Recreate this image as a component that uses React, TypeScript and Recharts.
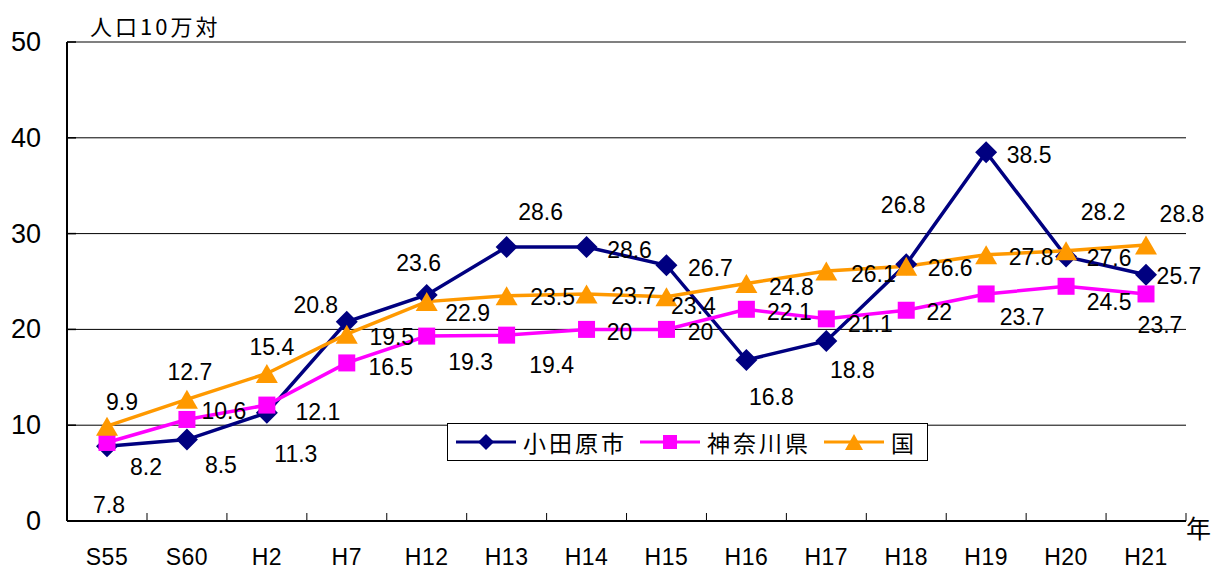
import React from 'react';
import { LineChart, Line, XAxis, YAxis, CartesianGrid, ReferenceLine, LabelList } from 'recharts';

const categories = ['S55', 'S60', 'H2', 'H7', 'H12', 'H13', 'H14', 'H15', 'H16', 'H17', 'H18', 'H19', 'H20', 'H21'];
const odawara = [7.8, 8.5, 11.3, 20.8, 23.6, 28.6, 28.6, 26.7, 16.8, 18.8, 26.8, 38.5, 27.6, 25.7];
const kanagawa = [8.2, 10.6, 12.1, 16.5, 19.3, 19.4, 20, 20, 22.1, 21.1, 22, 23.7, 24.5, 23.7];
const national = [9.9, 12.7, 15.4, 19.5, 22.9, 23.5, 23.7, 23.4, 24.8, 26.1, 26.6, 27.8, 28.2, 28.8];
const seriesNames = ['小田原市', '神奈川県', '国'];
const yTicks = [0, 10, 20, 30, 40, 50];

// label placement offsets (layout only), relative to each point
const odawaraLabelOffsets = [[2, 59], [34, 25], [29, 41], [-31, -17], [-8, -32], [34, -35], [43, 3], [44, 3], [25, 37], [26, 29], [-3, -59], [43, 3], [43, 1], [33, 1]];
const kanagawaLabelOffsets = [[39, 25], [37, -8], [51, 7], [44, 4], [44, 26], [45, 30], [33, 3], [34, 3], [43, 3], [44, 5], [33, 2], [36, 23], [43, 16], [14, 31]];
const nationalLabelOffsets = [[15, -24], [3, -27], [5, -26], [45, 3], [41, 11], [46, 1], [47, 2], [27, 9], [45, 4], [47, 3], [44, 2], [45, 2], [37, -39], [36, -31]];

const data = categories.map((c, i) => ({ name: c, odawara: odawara[i], kanagawa: kanagawa[i], national: national[i] }));

const FONT = "'Liberation Sans', Arial, 'Noto Sans CJK JP', sans-serif";
const CJK = "'Noto Sans CJK JP', sans-serif";
const NAVY = '#000080';
const MAGENTA = '#FF00FF';
const ORANGE = '#FF9900';
const HALF_STEP = 40;

const Diamond = (props: any) => {
  const { cx, cy } = props;
  if (cx == null || cy == null) return null;
  const r = 11;
  return <polygon points={`${cx},${cy - r} ${cx + r},${cy} ${cx},${cy + r} ${cx - r},${cy}`} fill={NAVY} />;
};
const Square = (props: any) => {
  const { cx, cy } = props;
  if (cx == null || cy == null) return null;
  const s = 17;
  return <rect x={cx - s / 2} y={cy - s / 2} width={s} height={s} fill={MAGENTA} />;
};
const Triangle = (props: any) => {
  const { cx, cy } = props;
  if (cx == null || cy == null) return null;
  const w = 22, h = 19;
  return <polygon points={`${cx},${cy - h / 2} ${cx + w / 2},${cy + h / 2} ${cx - w / 2},${cy + h / 2}`} fill={ORANGE} />;
};

const makeLabel = (offsets: number[][]) => (props: any) => {
  const { x, y, value, index } = props;
  const o = offsets[index] || [0, 0];
  return (
    <text x={x + o[0]} y={y + o[1]} textAnchor="middle" dominantBaseline="central" fontSize={23} fontFamily={FONT} fill="#000">
      {value}
    </text>
  );
};

const XTick = (props: any) => {
  const { x, y, payload } = props;
  return (
    <g>
      <text x={x} y={y + 44} textAnchor="middle" fontSize={23} letterSpacing={0.5} fontFamily={FONT} fill="#000">{payload.value}</text>
      <line x1={x + HALF_STEP} x2={x + HALF_STEP} y1={y} y2={y - 8} stroke="#000" strokeWidth={1} />
    </g>
  );
};

const YTick = (props: any) => {
  const { x, y, payload } = props;
  return (
    <g>
      <text x={x - 26} y={y} textAnchor="end" dominantBaseline="central" fontSize={27} fontFamily={FONT} fill="#000">{payload.value}</text>
      <line x1={x} x2={x + 9} y1={y} y2={y} stroke="#000" strokeWidth={1.5} />
    </g>
  );
};

const legendIcons = [
  { color: NAVY, shape: 'diamond' },
  { color: MAGENTA, shape: 'square' },
  { color: ORANGE, shape: 'triangle' },
];

const LegendIcon = ({ color, shape }: { color: string; shape: string }) => (
  <svg width={62} height={20} style={{ display: 'block', flexShrink: 0 }}>
    <line x1={1} x2={61} y1={10} y2={10} stroke={color} strokeWidth={3} />
    {shape === 'diamond' && <polygon points="31,2 39,10 31,18 23,10" fill={color} />}
    {shape === 'square' && <rect x={24} y={3} width={14} height={14} fill={color} />}
    {shape === 'triangle' && <polygon points="31,2 40,18 22,18" fill={color} />}
  </svg>
);

const ChartLegend = () => (
  <div style={{ position: 'absolute', left: 447, top: 423, border: '1px solid #000', background: '#fff', width: 472, height: 36, display: 'flex', alignItems: 'center', paddingLeft: 7, fontFamily: CJK, whiteSpace: 'nowrap' }}>
    {seriesNames.map((n, i) => (
      <div key={n} style={{ display: 'flex', alignItems: 'center', marginRight: 12, flexShrink: 0 }}>
        <LegendIcon color={legendIcons[i].color} shape={legendIcons[i].shape} />
        <span style={{ fontSize: 23, marginLeft: 6, letterSpacing: 3, color: '#000', lineHeight: '36px', whiteSpace: 'nowrap' }}>{n}</span>
      </div>
    ))}
  </div>
);

export default function App() {
  return (
    <div style={{ width: 1221, height: 570, position: 'relative', background: '#fff' }}>
      <style>{'body{margin:0;background:#fff;}'}</style>
      <LineChart width={1221} height={570} data={data} margin={{ top: 42, right: 35, bottom: 0, left: 0 }}>
        <CartesianGrid vertical={false} stroke="#000" strokeWidth={1} />
        <XAxis
          dataKey="name"
          height={49}
          padding={{ left: 40, right: 40 }}
          tick={<XTick />}
          tickLine={false}
          tickSize={0}
          tickMargin={0}
          interval={0}
          axisLine={{ stroke: '#000', strokeWidth: 2 }}
          label={{
            content: (p: any) => {
              const vb = p.viewBox || {};
              return (
                <text x={vb.x + vb.width} y={vb.y + 17} fontSize={25} fontFamily={CJK} fill="#000">年</text>
              );
            },
          }}
        />
        <YAxis
          width={67}
          domain={[0, 50]}
          ticks={yTicks}
          tick={<YTick />}
          tickLine={false}
          tickSize={0}
          tickMargin={0}
          axisLine={{ stroke: '#000', strokeWidth: 2 }}
          label={{
            content: (p: any) => {
              const vb = p.viewBox || {};
              return (
                <text x={vb.x + vb.width + 23} y={vb.y - 7} fontSize={22} letterSpacing={3} fontFamily={CJK} fill="#000">人口10万対</text>
              );
            },
          }}
        />
        <YAxis yAxisId="right" orientation="right" width={0} domain={[0, 50]} tick={false} tickLine={false} axisLine={{ stroke: '#808080', strokeWidth: 2 }} />
        <ReferenceLine y={50} stroke="#808080" strokeWidth={2} />
        <Line dataKey="odawara" name={seriesNames[0]} stroke={NAVY} strokeWidth={3.5} dot={<Diamond />} activeDot={false} isAnimationActive={false}>
          <LabelList dataKey="odawara" content={makeLabel(odawaraLabelOffsets)} />
        </Line>
        <Line dataKey="kanagawa" name={seriesNames[1]} stroke={MAGENTA} strokeWidth={3.5} dot={<Square />} activeDot={false} isAnimationActive={false}>
          <LabelList dataKey="kanagawa" content={makeLabel(kanagawaLabelOffsets)} />
        </Line>
        <Line dataKey="national" name={seriesNames[2]} stroke={ORANGE} strokeWidth={3.5} dot={<Triangle />} activeDot={false} isAnimationActive={false}>
          <LabelList dataKey="national" content={makeLabel(nationalLabelOffsets)} />
        </Line>
      </LineChart>
      <ChartLegend />
    </div>
  );
}
